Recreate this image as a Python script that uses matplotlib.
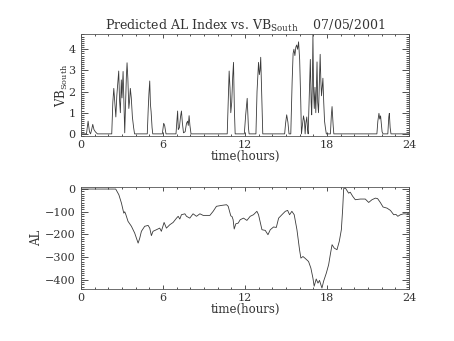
import matplotlib
matplotlib.use("Agg")
import matplotlib.pyplot as plt
from matplotlib.ticker import MultipleLocator

# VB_South (top panel), hours vs value
vb_time = [0.0, 0.40, 0.52, 0.62, 0.70, 0.78, 0.86, 0.95, 1.05, 1.20,
           2.25, 2.33, 2.40, 2.48, 2.55, 2.62, 2.70, 2.76, 2.82, 2.88,
           2.95, 3.00, 3.08, 3.14, 3.20, 3.25, 3.32, 3.37, 3.43, 3.50,
           3.56, 3.61, 3.68, 3.76, 3.85, 3.92,
           4.85, 4.92, 4.97, 5.03, 5.08, 5.13, 5.20, 5.25,
           5.95, 6.05, 6.12, 6.22,
           6.95, 7.02, 7.07, 7.12, 7.20, 7.28, 7.35, 7.42, 7.50, 7.62,
           7.72, 7.80, 7.85, 7.91, 7.97, 8.05,
           10.70, 10.78, 10.84, 10.90, 10.96, 11.03, 11.10, 11.16, 11.22, 11.28,
           11.95, 12.05, 12.16, 12.25, 12.30,
           12.80, 12.88, 12.99, 13.05, 13.10, 13.15, 13.22, 13.30,
           14.90, 14.97, 15.05, 15.14, 15.22,
           15.35, 15.45, 15.52, 15.58, 15.65, 15.72, 15.78, 15.85, 15.92, 16.00,
           16.08, 16.13, 16.20, 16.28, 16.35, 16.40, 16.45, 16.52, 16.58, 16.62,
           16.68, 16.74, 16.78, 16.84, 16.88, 16.93, 16.97, 17.02, 17.07, 17.12,
           17.18, 17.22, 17.27, 17.32, 17.38, 17.43, 17.50, 17.55, 17.60, 17.65,
           17.70, 17.76, 17.82, 17.88, 17.95,
           18.25, 18.32, 18.37, 18.45, 18.50,
           21.65, 21.72, 21.80, 21.86, 21.92, 21.97, 22.03, 22.10,
           22.45, 22.52, 22.56, 22.62, 22.68, 24.0]
vb_south = [0.0, 0.0, 0.6, 0.1, 0.0, 0.2, 0.45, 0.2, 0.1, 0.0,
            0.0, 1.5, 2.15, 1.4, 0.8, 1.8, 2.5, 2.97, 1.6, 1.0,
            2.55, 1.7, 2.95, 1.5, 0.05, 1.2, 2.7, 3.36, 2.6, 1.2,
            1.6, 2.15, 1.7, 0.8, 0.3, 0.0,
            0.0, 1.2, 1.9, 2.5, 1.4, 1.05, 0.3, 0.0,
            0.0, 0.5, 0.4, 0.0,
            0.0, 0.6, 1.08, 0.2, 0.3, 0.8, 1.08, 0.5, 0.05, 0.1,
            0.5, 0.6, 0.4, 0.86, 0.4, 0.0,
            0.0, 1.8, 2.97, 2.2, 1.0, 1.5, 2.7, 3.38, 1.2, 0.0,
            0.0, 0.9, 1.68, 0.3, 0.0,
            0.0, 2.0, 3.38, 2.8, 3.0, 3.62, 2.0, 0.0,
            0.0, 0.5, 0.9, 0.55, 0.0,
            0.0, 2.5, 3.8, 4.0, 3.7, 4.1, 4.2, 4.0, 4.35, 3.5,
            1.5, 0.0, 0.4, 0.85, 0.6, 0.0, 0.5, 0.8, 0.2, 0.0,
            1.3, 2.5, 3.52, 1.5, 0.9, 2.5, 4.7, 2.0, 1.2, 2.2,
            1.0, 2.0, 3.4, 1.5, 1.0, 2.2, 3.76, 2.5, 1.8, 2.2,
            2.63, 1.5, 0.6, 0.3, 0.0,
            0.0, 0.9, 1.29, 0.4, 0.0,
            0.0, 0.6, 0.97, 0.7, 0.85, 0.5, 0.1, 0.0,
            0.0, 0.8, 0.97, 0.3, 0.0, 0.0]

# AL index (bottom panel)
al_time = [0.0, 2.54, 2.77, 2.96, 3.13, 3.20, 3.28, 3.44, 3.69, 3.93,
           4.18, 4.30, 4.42, 4.66, 4.91, 5.03, 5.15, 5.27, 5.52, 5.76,
           5.88, 6.08, 6.25, 6.50, 6.74, 6.99, 7.11, 7.23, 7.35, 7.60,
           7.72, 7.96, 8.20, 8.45, 8.70, 8.94, 9.18, 9.43, 9.67, 9.91,
           10.28, 10.65, 10.77, 10.96, 11.05, 11.13, 11.21, 11.33, 11.50, 11.65,
           11.89, 12.14, 12.38, 12.62, 12.87, 12.99, 13.24, 13.48, 13.68, 13.85,
           14.09, 14.29, 14.46, 14.70, 14.95, 15.12, 15.26, 15.43, 15.60, 15.80,
           15.99, 16.09, 16.24, 16.40, 16.65, 16.82, 16.97, 17.06, 17.21, 17.34,
           17.45, 17.63, 17.75, 17.95, 18.12, 18.24, 18.37, 18.53, 18.73, 18.90,
           19.05, 19.15, 19.22, 19.34, 19.58, 19.70, 19.88, 20.07, 20.44, 20.80,
           21.05, 21.29, 21.54, 21.70, 21.90, 22.10, 22.39, 22.64, 22.88, 23.05,
           23.18, 23.37, 23.61, 23.86, 24.0]
al_index = [0, 0, -25, -62, -106, -100, -112, -142, -164, -194,
            -238, -216, -186, -164, -160, -172, -205, -186, -179, -172,
            -186, -147, -172, -157, -147, -128, -120, -132, -113, -109,
            -120, -128, -109, -120, -109, -116, -116, -116, -98, -76,
            -72, -69, -76, -118, -121, -135, -176, -153, -150, -135,
            -128, -138, -120, -113, -98, -113, -179, -182, -201, -179,
            -167, -169, -128, -113, -98, -94, -113, -98, -113, -179,
            -267, -304, -297, -305, -319, -348, -392, -428, -396, -414,
            -402, -436, -406, -370, -333, -289, -245, -260, -267, -230,
            -179, -84, 2, 5, -18, -14, -32, -47, -44, -44,
            -59, -47, -40, -42, -59, -79, -84, -94, -113, -112,
            -120, -113, -109, -110, -105]

title_txt = "Predicted AL Index vs. VB$_{\\mathregular{South}}$    07/05/2001"
xticks = [0, 6, 12, 18, 24]

plt.rcParams["font.family"] = ["DejaVu Serif"]
plt.rcParams["mathtext.default"] = "regular"
ink = "#333333"

fig = plt.figure(figsize=(4.54, 3.41), dpi=100)
ax1 = fig.add_axes([0.1784, 0.6012, 0.7225, 0.2991])
ax2 = fig.add_axes([0.1784, 0.1525, 0.7225, 0.2991])

ax1.plot(vb_time, vb_south, color="#3a3a3a", linewidth=0.6)
ax2.plot(al_time, al_index, color="#3a3a3a", linewidth=0.6)

ax1.set_ylim(-0.1, 4.72)
ax1.yaxis.set_major_locator(MultipleLocator(1))
ax1.yaxis.set_minor_locator(MultipleLocator(0.1))
ax2.set_ylim(-440, 9)
ax2.yaxis.set_major_locator(MultipleLocator(100))
ax2.yaxis.set_minor_locator(MultipleLocator(10))

for ax in (ax1, ax2):
    ax.set_xlim(0, 24)
    ax.set_xticks(xticks)
    ax.xaxis.set_minor_locator(MultipleLocator(1))
    ax.tick_params(which="both", direction="in", top=True, right=True,
                   colors=ink, labelsize=8, width=0.6)
    ax.tick_params(axis="x", which="major", length=3, pad=3)
    ax.tick_params(axis="x", which="minor", length=1.5)
    ax.tick_params(axis="y", which="major", length=4.7, pad=4)
    ax.tick_params(axis="y", which="minor", length=2.3)
    for s in ax.spines.values():
        s.set_color("#555555")
        s.set_linewidth(0.6)
    ax.set_xlabel("time(hours)", fontsize=8.5, color=ink, labelpad=0)

ax1.set_ylabel("VB$_{\\mathregular{South}}$", fontsize=8.5, color=ink, labelpad=-1)
ax2.set_ylabel("AL", fontsize=8.5, color=ink, labelpad=1)
ax1.set_title(title_txt, fontsize=9, color=ink, pad=2)

fig.savefig("out.png", dpi=100)
